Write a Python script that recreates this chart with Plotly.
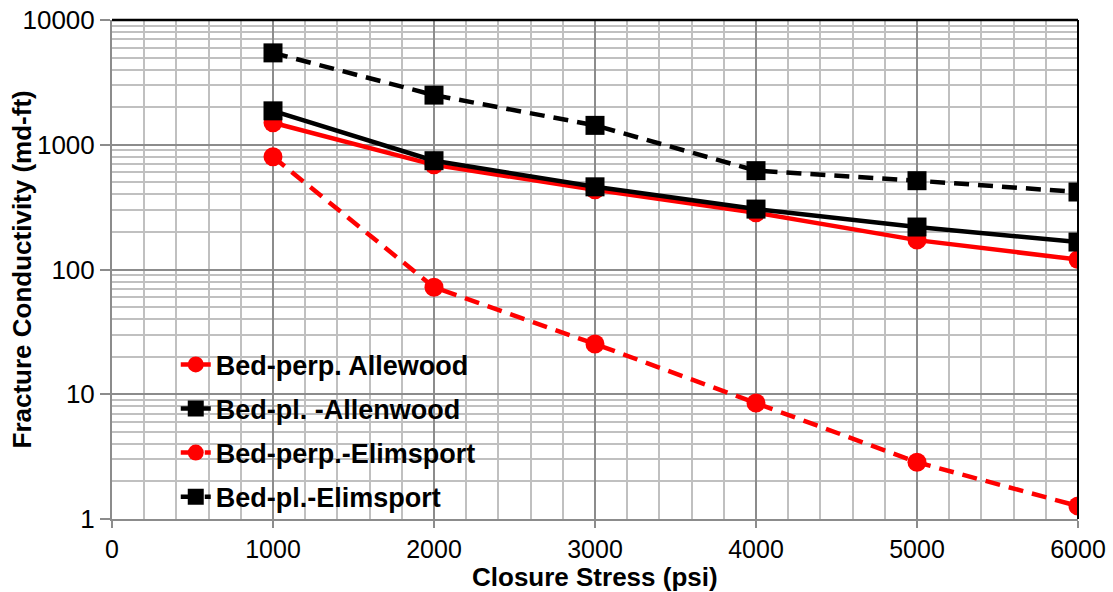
import plotly.graph_objects as go

stress = [1000, 2000, 3000, 4000, 5000, 6000]
bed_perp_allenwood = [1500, 690, 435, 285, 172, 120]
bed_pl_allenwood = [1870, 745, 460, 305, 219, 166]
bed_perp_elimsport = [800, 72, 25.3, 8.5, 2.85, 1.27]
bed_pl_elimsport = [5450, 2500, 1430, 620, 515, 418]

x_ticks = [0, 1000, 2000, 3000, 4000, 5000, 6000]
y_ticks = [1, 10, 100, 1000, 10000]

FONT = "Liberation Sans, Arial, sans-serif"

fig = go.Figure()
series = [
    ("Bed-perp. Allewood", bed_perp_allenwood, "#ff0000", "solid", "circle"),
    ("Bed-pl. -Allenwood", bed_pl_allenwood, "#000000", "solid", "square"),
    ("Bed-perp.-Elimsport", bed_perp_elimsport, "#ff0000", "15px,9px", "circle"),
    ("Bed-pl.-Elimsport", bed_pl_elimsport, "#000000", "15px,9px", "square"),
]
for i, (name, ys, col, dash, sym) in enumerate(series):
    fig.add_trace(go.Scatter(
        x=stress, y=ys, name=name, mode="lines+markers", legendgroup=f"g{i}",
        line=dict(color=col, width=4.5, dash=dash),
        marker=dict(symbol=sym, size=19, color=col),
    ))

fig.update_layout(
    width=1113, height=592,
    margin=dict(l=112, r=35, t=20, b=73, autoexpand=False),
    paper_bgcolor="white", plot_bgcolor="white",
    font=dict(family=FONT, size=25, color="black"),
    showlegend=True,
    legend=dict(x=0.066, y=0.358, xanchor="left", yanchor="top",
                font=dict(family=FONT, size=27, color="black", weight="bold"),
                bgcolor="rgba(0,0,0,0)", tracegroupgap=6),
    xaxis=dict(
        range=[0, 6000], tickvals=x_ticks, ticktext=[str(v) for v in x_ticks],
        showgrid=True, gridcolor="#8c8c8c", gridwidth=1.5, automargin=False,
        minor=dict(dtick=200, showgrid=True, gridcolor="#c0c0c0", gridwidth=1.5, ticks=""),
        showline=True, linecolor="#8c8c8c", linewidth=2,
        ticks="outside", ticklen=7, tickcolor="#8c8c8c", tickwidth=1.5,
        tickfont=dict(size=25), zeroline=False,
    ),
    yaxis=dict(
        type="log", range=[0, 4], tickvals=y_ticks, ticktext=[str(v) for v in y_ticks],
        showgrid=True, gridcolor="#8c8c8c", gridwidth=1.5, automargin=False,
        minor=dict(dtick="D1", showgrid=True, gridcolor="#c0c0c0", gridwidth=1.5, ticks=""),
        showline=True, linecolor="#8c8c8c", linewidth=2,
        ticks="outside", ticklen=10, tickcolor="#8c8c8c", tickwidth=1.5,
        tickfont=dict(size=26), zeroline=False,
    ),
    annotations=[
        dict(text="<b>Closure Stress (psi)</b>", xref="paper", yref="paper",
             x=0.5, y=-0.116, xanchor="center", yanchor="middle", showarrow=False,
             font=dict(family=FONT, size=26, color="black")),
        dict(text="<b>Fracture Conductivity (md-ft)</b>", xref="paper", yref="paper",
             x=-0.0932, y=0.5, xanchor="center", yanchor="middle", showarrow=False,
             textangle=-90, font=dict(family=FONT, size=26, color="black")),
    ],
    shapes=[
        dict(type="line", xref="paper", yref="paper", x0=0, x1=1, y0=1, y1=1,
             line=dict(color="black", width=2.5)),
        dict(type="line", xref="paper", yref="paper", x0=1, x1=1, y0=0, y1=1,
             line=dict(color="black", width=2)),
    ],
)

fig.write_html("out.html")
